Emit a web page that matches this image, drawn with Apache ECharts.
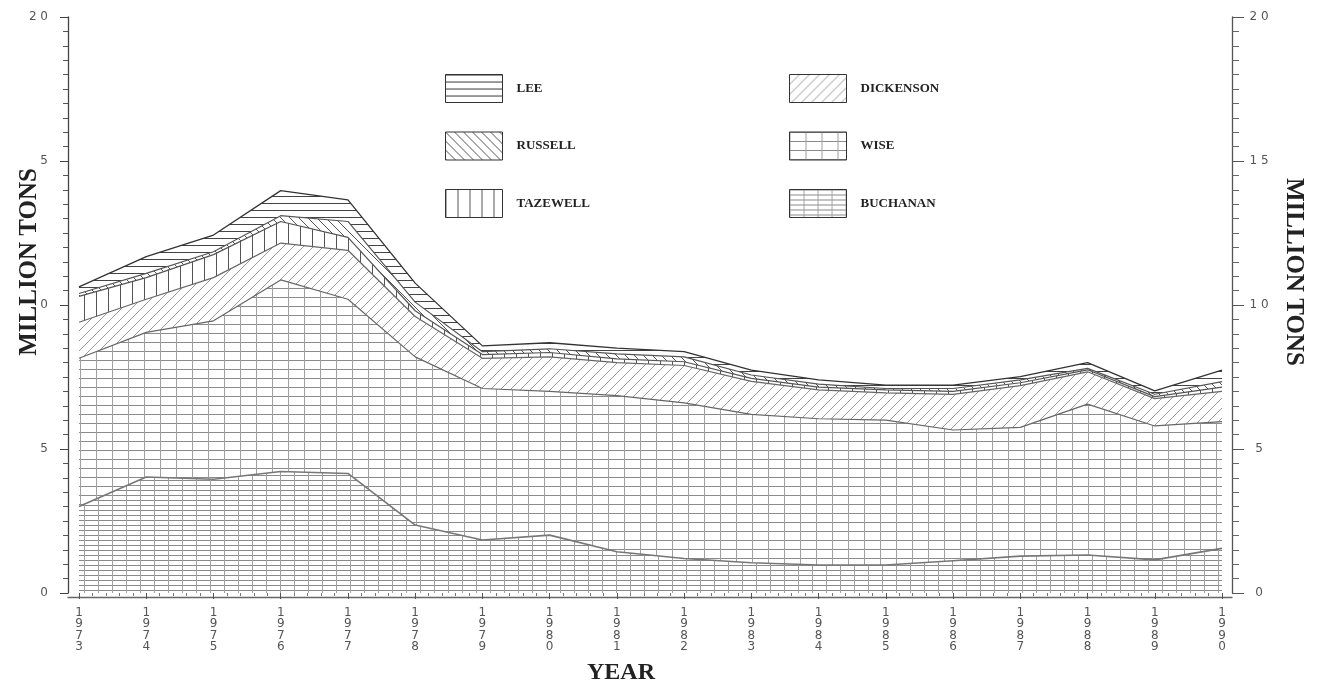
<!DOCTYPE html>
<html>
<head>
<meta charset="utf-8">
<script src="https://cdn.jsdelivr.net/npm/echarts@6/dist/echarts.min.js"></script>
<style>
html,body{margin:0;padding:0;background:#fff;}
#chart{width:1320px;height:691px;}
</style>
</head>
<body>
<div id="chart"></div>
<script>
// ---- data (million tons, per county, stacked bottom to top) ----
const years = ['1973','1974','1975','1976','1977','1978','1979','1980','1981','1982','1983','1984','1985','1986','1987','1988','1989','1990'];
const buchanan  = [3.00,4.03,3.95,4.22,4.15,2.36,1.84,2.01,1.43,1.20,1.05,0.97,0.97,1.12,1.28,1.32,1.15,1.55];
const wise      = [5.15,5.02,5.50,6.65,6.05,5.84,5.26,4.99,5.42,5.40,5.15,5.08,5.03,4.54,4.47,5.24,4.65,4.40];
const dickenson = [1.25,1.15,1.50,1.28,1.70,1.40,1.05,1.20,1.15,1.30,1.15,1.00,0.95,1.24,1.45,1.12,0.95,1.05];
const tazewell  = [0.90,0.75,0.80,0.75,0.45,0.20,0.13,0.15,0.13,0.13,0.10,0.10,0.10,0.10,0.10,0.07,0.07,0.15];
const russell   = [0.10,0.15,0.10,0.20,0.55,0.30,0.10,0.13,0.17,0.17,0.12,0.10,0.05,0.10,0.10,0.05,0.08,0.19];
const lee       = [0.23,0.58,0.58,0.87,0.75,0.66,0.20,0.21,0.20,0.18,0.17,0.15,0.12,0.12,0.11,0.20,0.12,0.40];
const leftTickLabels  = ['0','5','0','5','2 0'];
const rightTickLabels = ['0','5','1 0','1 5','2 0'];
const legendLeft  = ['LEE','RUSSELL','TAZEWELL'];
const legendRight = ['DICKENSON','WISE','BUCHANAN'];

// ---- hatch patterns ----
function pat(w, h, draw) {
  const c = document.createElement('canvas');
  c.width = w; c.height = h;
  const g = c.getContext('2d');
  g.fillStyle = '#fff'; g.fillRect(0, 0, w, h);
  draw(g, w, h);
  return { image: c, repeat: 'repeat' };
}
function line(g, x1, y1, x2, y2, col, lw) {
  g.strokeStyle = col; g.lineWidth = lw || 1;
  g.beginPath(); g.moveTo(x1, y1); g.lineTo(x2, y2); g.stroke();
}
const patterns = {
  LEE: pat(8, 7, (g, w, h) => { line(g, 0, 0.5, w, 0.5, '#444', 1); }),
  RUSSELL: pat(9, 9, (g, s) => { [-s, 0, s].forEach(k => line(g, k, 0, k + s, s, '#555', 1)); }),
  TAZEWELL: pat(12, 8, (g, w, h) => { line(g, 0.5, 0, 0.5, h, '#555', 1); }),
  DICKENSON: pat(10, 10, (g, s) => { [-s, 0, s].forEach(k => line(g, k, s, k + s, 0, '#9a9a9a', 1)); }),
  WISE: pat(16, 9, (g, w, h) => {
    line(g, 0, 0.5, w, 0.5, '#8a8a8a', 1);
    line(g, 0.5, 0, 0.5, h, '#a0a0a0', 1);
  }),
  BUCHANAN: pat(14, 5, (g, w, h) => {
    line(g, 0, 0.5, w, 0.5, '#8a8a8a', 1);
    line(g, 0.5, 0, 0.5, h, '#a0a0a0', 1);
  })
};

const layers = [
  ['BUCHANAN', buchanan, '#777', 1.6],
  ['WISE', wise, '#666', 1.2],
  ['DICKENSON', dickenson, '#666', 1.2],
  ['TAZEWELL', tazewell, '#555', 1.2],
  ['RUSSELL', russell, '#555', 1.2],
  ['LEE', lee, '#333', 1.3]
];

const series = layers.map(([name, vals, lc, lw]) => ({
  name: name,
  type: 'line',
  xAxisIndex: 0, yAxisIndex: 0,
  stack: 'total',
  symbol: 'none',
  smooth: false,
  data: vals,
  lineStyle: { color: lc, width: lw },
  itemStyle: { color: patterns[name], borderColor: '#333', borderWidth: 1 },
  areaStyle: { color: patterns[name], opacity: 1 },
  z: 2
}));

const tickFont = { color: '#555', fontFamily: 'DejaVu Sans', fontSize: 12 };
const legendCommon = {
  orient: 'vertical', itemWidth: 57, itemHeight: 28, itemGap: 28.5, icon: 'rect',
  selectedMode: false,
  textStyle: { fontFamily: 'Liberation Serif', fontWeight: 'bold', fontSize: 13, color: '#222', padding: [0, 0, 0, 9] }
};

const chart = echarts.init(document.getElementById('chart'), null, { renderer: 'canvas' });
chart.setOption({
  animation: false,
  backgroundColor: '#fff',
  grid: [
    { left: 79, right: 98, top: 17, bottom: 98 },
    { left: 68, right: 88, top: 17, bottom: 94 }
  ],
  legend: [
    Object.assign({}, legendCommon, { left: 440, top: 69, data: legendLeft.map(n => ({ name: n, itemStyle: { borderColor: '#333', borderWidth: 1 } })) }),
    Object.assign({}, legendCommon, { left: 784, top: 69, data: legendRight.map(n => ({ name: n, itemStyle: { borderColor: '#333', borderWidth: 1 } })) })
  ],
  xAxis: [
    {
      type: 'category', gridIndex: 0, data: years, boundaryGap: false, show: false
    },
    {
      type: 'value', gridIndex: 0, min: 1973, max: 1990, interval: 1, offset: 4, position: 'bottom',
      axisLine: { show: false },
      axisTick: { show: true, length: 6, lineStyle: { color: '#555' } },
      minorTick: { show: true, splitNumber: 5, length: 3, lineStyle: { color: '#777' } },
      splitLine: { show: false },
      axisLabel: Object.assign({}, tickFont, {
        margin: 10, lineHeight: 11.5,
        formatter: v => (Number.isInteger(v) ? String(v).split('').join('\n') : '')
      })
    },
    {
      type: 'value', gridIndex: 1, min: 0, max: 1,
      axisLine: { show: true, lineStyle: { color: '#666', width: 1.3 } },
      axisTick: { show: false }, axisLabel: { show: false }, splitLine: { show: false }
    }
  ],
  yAxis: [
    {
      type: 'value', gridIndex: 0, min: 0, max: 20, interval: 5, position: 'left', offset: 11,
      axisLine: { show: true, lineStyle: { color: '#444', width: 1.3 } },
      axisTick: { show: true, length: 8, lineStyle: { color: '#444' } },
      minorTick: { show: true, splitNumber: 10, length: 5, lineStyle: { color: '#555' } },
      splitLine: { show: false },
      axisLabel: Object.assign({}, tickFont, { margin: 20, formatter: v => leftTickLabels[v / 5] })
    },
    {
      type: 'value', gridIndex: 0, min: 0, max: 20, interval: 5, position: 'right', offset: 10,
      axisLine: { show: true, lineStyle: { color: '#555', width: 1.3 } },
      axisTick: { show: true, length: 12, lineStyle: { color: '#555' } },
      minorTick: { show: true, splitNumber: 10, length: 7, lineStyle: { color: '#666' } },
      splitLine: { show: false },
      axisLabel: Object.assign({}, tickFont, { margin: 27, align: 'center', formatter: v => rightTickLabels[v / 5] })
    },
    { type: 'value', gridIndex: 1, show: false, min: 0, max: 1 }
  ],
  graphic: [
    { type: 'text', left: 17, top: 168, rotation: Math.PI / 2, style: { text: 'MILLION TONS', fontFamily: 'Liberation Serif', fontWeight: 'bold', fontSize: 25, fill: '#222' } },
    { type: 'text', right: 14, top: 178, rotation: -Math.PI / 2, style: { text: 'MILLION TONS', fontFamily: 'Liberation Serif', fontWeight: 'bold', fontSize: 25, fill: '#222' } },
    { type: 'text', left: 587, top: 661, style: { text: 'YEAR', fontFamily: 'Liberation Serif', fontWeight: 'bold', fontSize: 24, fill: '#222' } }
  ],
  series: series
});
</script>
</body>
</html>
